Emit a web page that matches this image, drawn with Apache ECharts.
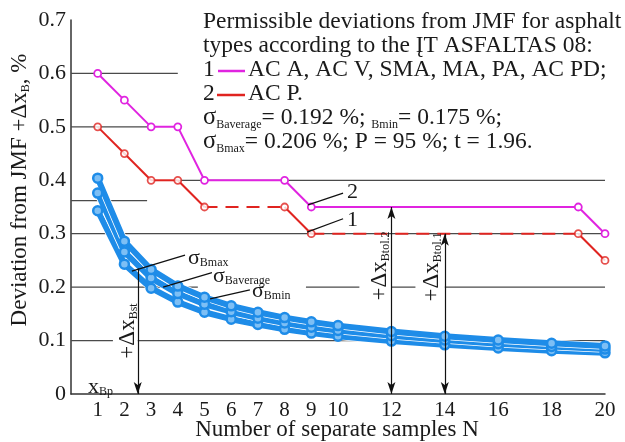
<!DOCTYPE html>
<html>
<head>
<meta charset="utf-8">
<script src="https://cdn.jsdelivr.net/npm/echarts@6/dist/echarts.min.js"></script>
<style>
html, body { margin: 0; padding: 0; background: #fff; }
#chart { width: 625px; height: 442px; }
</style>
</head>
<body>
<div id="chart"></div>
<script>
// sample counts and the three sigma curves
const blueN = [1, 2, 3, 4, 5, 6, 7, 8, 9, 10, 12, 14, 16, 18, 20];
const sigmaMax = [0.404, 0.286, 0.233, 0.202, 0.181, 0.165, 0.153, 0.143, 0.135, 0.128, 0.117, 0.108, 0.101, 0.095, 0.090];
const sigmaAvg = [0.376, 0.266, 0.217, 0.188, 0.168, 0.154, 0.142, 0.133, 0.125, 0.119, 0.109, 0.101, 0.094, 0.089, 0.084];
const sigmaMin = [0.343, 0.243, 0.198, 0.172, 0.153, 0.140, 0.130, 0.121, 0.114, 0.108, 0.099, 0.092, 0.086, 0.081, 0.077];

// permissible deviations (step lines)
const stepN = [1, 2, 3, 4, 5, 8, 9, 19, 20];
const type1 = [0.6, 0.55, 0.5, 0.5, 0.4, 0.4, 0.35, 0.35, 0.3];
const type2 = [0.5, 0.45, 0.4, 0.4, 0.35, 0.35, 0.3, 0.3, 0.25];
const type2Dashed = [false, false, false, false, true, false, true, false];

const xTicks = [1, 2, 3, 4, 5, 6, 7, 8, 9, 10, 12, 14, 16, 18, 20];

// broken horizontal grid lines: [y, xFrom, xTo]
const gridSegments = [
  [0.6, 0, 4], [0.5, 0, 3], [0.362, 0, 2.85], [0.4, 4, 20], [0.3, 0, 20],
  [0.2, 0, 4.75], [0.2, 8.8, 10.8], [0.2, 12, 12.9], [0.2, 14, 20],
  [0.1, 0, 1.57], [0.1, 2.5, 20]
];
// leader lines for the labels: [[x1, y1], [x2, y2]]
const leaders = [
  [[2.28, 0.230], [4.27, 0.260]],
  [[3.45, 0.200], [5.28, 0.227]],
  [[5.21, 0.178], [6.70, 0.195]],
  [[8.88, 0.354], [10.19, 0.376]],
  [[8.84, 0.303], [10.19, 0.328]]
];
// vertical arrows: [x, yTop, yBottom, bothEnds]
const arrows = [[2.5, 0.235, 0, false], [12, 0.35, 0, true], [14, 0.3, 0, true]];

const FONT = 'Liberation Serif';
const BLUE = '#1e8ce8';
const MAGENTA = '#e024e0';
const RED = '#e02420';
const INK = '#1a1a1a';

var myChart = echarts.init(document.getElementById('chart'));

const series = [];
gridSegments.forEach(function (s) {
  series.push({
    type: 'line', silent: true, symbol: 'none', z: 1,
    data: [[s[1], s[0]], [s[2], s[0]]],
    lineStyle: { color: '#4a4a4a', width: 1.2 }
  });
});
leaders.forEach(function (l) {
  series.push({
    type: 'line', silent: true, symbol: 'none', z: 5,
    data: l,
    lineStyle: { color: '#111', width: 1.3 }
  });
});
arrows.forEach(function (a) {
  series.push({
    type: 'line', silent: true, symbol: 'none', z: 5,
    data: [[a[0], a[1]], [a[0], a[2]]],
    lineStyle: { width: 0, opacity: 0 },
    markLine: {
      silent: true,
      symbol: a[3] ? ['arrow', 'arrow'] : ['none', 'arrow'],
      symbolSize: [6, 12],
      label: { show: false },
      lineStyle: { color: '#111', width: 1.2, type: 'solid' },
      data: [[{ coord: [a[0], a[1]] }, { coord: [a[0], a[2]] }]]
    }
  });
});

// type 2 (red): solid and dashed pieces, then the markers
for (let i = 0; i < stepN.length - 1; i++) {
  series.push({
    type: 'line', silent: true, symbol: 'none', z: 3,
    data: [[stepN[i], type2[i]], [stepN[i + 1], type2[i + 1]]],
    lineStyle: { color: RED, width: 2, type: type2Dashed[i] ? [13, 8] : 'solid' }
  });
}
series.push({
  type: 'scatter', z: 4, symbol: 'circle', symbolSize: 7,
  data: stepN.map(function (n, i) { return [n, type2[i]]; }),
  itemStyle: { color: '#fff', borderColor: RED, borderWidth: 1.8 }
});
series.push({
  type: 'line', z: 3, symbol: 'circle', symbolSize: 7,
  data: stepN.map(function (n, i) { return [n, type1[i]]; }),
  lineStyle: { color: MAGENTA, width: 2 },
  itemStyle: { color: '#fff', borderColor: MAGENTA, borderWidth: 1.8 }
});

[sigmaMin, sigmaAvg, sigmaMax].forEach(function (vals) {
  const d = blueN.map(function (n, i) { return [n, vals[i]]; });
  series.push({
    type: 'line', silent: true, symbol: 'none', z: 3, data: d,
    lineStyle: { color: '#fff', width: 7.5 }
  });
  series.push({
    type: 'line', z: 3, data: d, symbol: 'circle', symbolSize: 9,
    lineStyle: { color: BLUE, width: 6 },
    itemStyle: { color: '#7dbff5', borderColor: BLUE, borderWidth: 2.5 }
  });
});

function txt(x, y, text, opts) {
  opts = opts || {};
  return {
    type: 'text', x: x, y: y, rotation: opts.rot || 0, z: 10,
    style: {
      text: text, fill: INK, font: (opts.size || 23) + 'px "' + FONT + '"',
      align: opts.align || 'left', verticalAlign: 'middle',
      rich: opts.rich
    }
  };
}
function richSub(big, small) {
  return {
    n: { fontSize: big, fontFamily: FONT, color: INK },
    s: { fontSize: big + 1, fontFamily: FONT, color: INK },
    b: { fontSize: small, fontFamily: FONT, color: INK, verticalAlign: 'bottom' }
  };
}

const graphic = [
  txt(203, 22, 'Permissible deviations from JMF for asphalt', { size: 23.5 }),
  txt(203, 46, 'types according to the ĮT ASFALTAS 08:', { size: 23.5 }),
  txt(203, 70, '1', { size: 23.5 }),
  { type: 'line', z: 10, shape: { x1: 218, y1: 71, x2: 245, y2: 71 }, style: { stroke: MAGENTA, lineWidth: 2.5 } },
  txt(248, 70, 'AC A, AC V, SMA, MA, PA, AC PD;', { size: 23.5 }),
  txt(203, 94, '2', { size: 23.5 }),
  { type: 'line', z: 10, shape: { x1: 217, y1: 95, x2: 245, y2: 95 }, style: { stroke: RED, lineWidth: 2.5 } },
  txt(248, 94, 'AC P.', { size: 23.5 }),
  txt(203, 118, '{s|σ}{b|Baverage}{n|= 0.192 %; }{b|Bmin}{n|= 0.175 %;}', { rich: richSub(23.5, 12) }),
  txt(203, 142, '{s|σ}{b|Bmax}{n|= 0.206 %; P = 95 %; t = 1.96.}', { rich: richSub(23.5, 12) }),
  txt(188, 258, '{s|σ}{b|Bmax}', { rich: richSub(21, 12) }),
  txt(213, 276, '{s|σ}{b|Baverage}', { rich: richSub(21, 12) }),
  txt(252, 291, '{s|σ}{b|Bmin}', { rich: richSub(21, 12) }),
  txt(88, 387, '{n|x}{b|Bp}', { rich: richSub(22, 12) }),
  txt(347, 192, '2', { size: 22 }),
  txt(347, 220, '1', { size: 22 }),
  txt(128, 331, '{n|+Δx}{b|Bst}', { rot: Math.PI / 2, align: 'center', rich: richSub(23, 12) }),
  txt(380, 266, '{n|+Δx}{b|Btol.2}', { rot: Math.PI / 2, align: 'center', rich: richSub(23, 12) }),
  txt(432, 267, '{n|+Δx}{b|Btol.1}', { rot: Math.PI / 2, align: 'center', rich: richSub(23, 12) }),
  txt(20, 190, '{n|Deviation from JMF +Δx}{b|B}{n|, %}', { rot: Math.PI / 2, align: 'center', rich: richSub(23, 12) }),
  txt(337, 430, 'Number of separate samples N', { align: 'center' })
];

var option = {
  animation: false,
  backgroundColor: '#fff',
  grid: { left: 71, right: 20, top: 20, bottom: 48 },
  xAxis: {
    type: 'value', min: 0, max: 20,
    axisLine: { lineStyle: { color: '#333', width: 1.5 } },
    axisTick: { show: false },
    splitLine: { show: false },
    axisLabel: {
      customValues: xTicks, margin: 6,
      color: INK, fontFamily: FONT, fontSize: 21
    }
  },
  yAxis: {
    type: 'value', min: 0, max: 0.7, interval: 0.1,
    axisLine: { show: true, lineStyle: { color: '#333', width: 1.5 } },
    axisTick: { show: false },
    splitLine: { show: false },
    axisLabel: {
      margin: 5, color: INK, fontFamily: FONT, fontSize: 22,
      formatter: function (v) { return v === 0 ? '0' : v.toFixed(1); }
    }
  },
  series: series,
  graphic: graphic
};

option && myChart.setOption(option);
</script>
</body>
</html>
